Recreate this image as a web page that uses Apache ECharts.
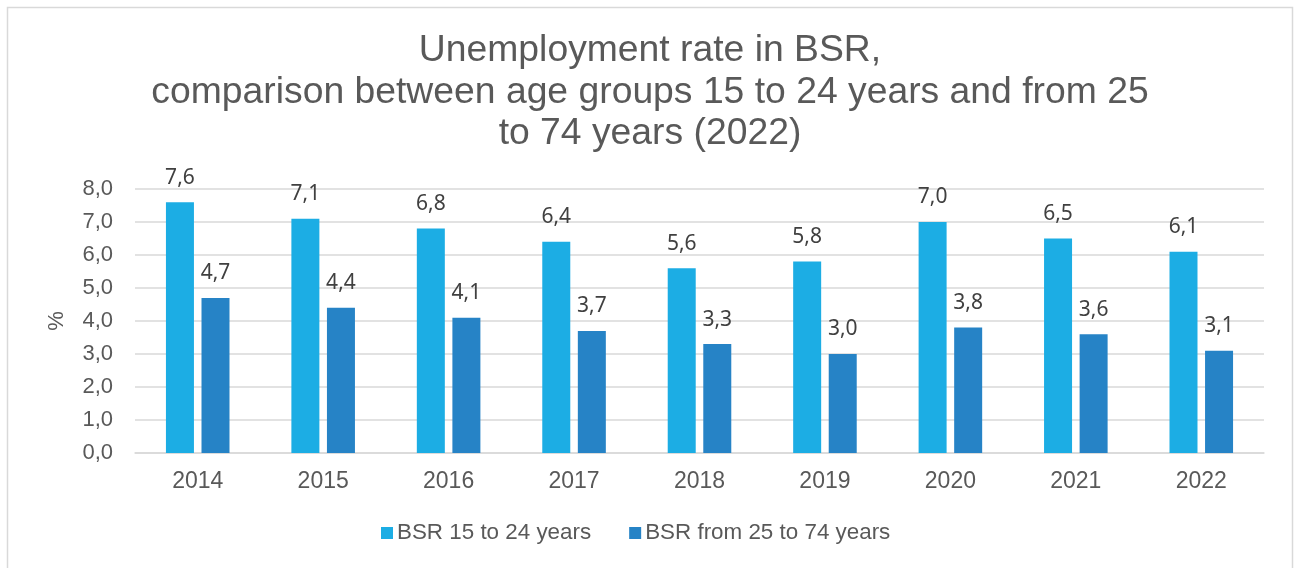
<!DOCTYPE html>
<html>
<head>
<meta charset="utf-8">
<script src="https://cdn.jsdelivr.net/npm/echarts@6/dist/echarts.min.js"></script>
<style>
  html, body { margin: 0; padding: 0; background: #fff; }
  #chart { width: 1295px; height: 568px; }
</style>
</head>
<body>
<div id="chart"></div>
<script>
const titleText = 'Unemployment rate in BSR,\ncomparison between age groups 15 to 24 years and from 25\nto 74 years (2022)';
const categories = ['2014', '2015', '2016', '2017', '2018', '2019', '2020', '2021', '2022'];
const seriesNames = ['BSR 15 to 24 years', 'BSR from 25 to 74 years'];
const youth = [7.6, 7.1, 6.8, 6.4, 5.6, 5.8, 7.0, 6.5, 6.1];
const adults = [4.7, 4.4, 4.1, 3.7, 3.3, 3.0, 3.8, 3.6, 3.1];
const yAxisName = '%';

const fmt = v => Number(v).toFixed(1).replace('.', ',');
const textColor = '#595959';
const font = 'Liberation Sans, Arial, sans-serif';

const chart = echarts.init(document.getElementById('chart'), null, { renderer: 'canvas' });
const labelCfg = {
  show: true,
  position: 'top',
  distance: 14,
  formatter: p => fmt(p.value),
  color: '#404040',
  fontFamily: 'Noto Sans, Open Sans, sans-serif',
  fontSize: 21
};
chart.setOption({
  backgroundColor: '#ffffff',
  animation: false,
  graphic: [{
    type: 'rect',
    shape: { x: 7.5, y: 7.5, width: 1285, height: 580 },
    style: { fill: 'none', stroke: '#D9D9D9', lineWidth: 1.5 },
    silent: true
  }],
  title: {
    text: titleText,
    left: 650,
    top: 30,
    textAlign: 'center',
    padding: 0,
    textStyle: {
      color: textColor,
      fontFamily: font,
      fontSize: 37.3,
      fontWeight: 'normal',
      lineHeight: 41.5
    }
  },
  legend: {
    data: seriesNames,
    left: 381,
    top: 522,
    padding: 0,
    itemWidth: 12,
    itemHeight: 12,
    itemGap: 38,
    icon: 'rect',
    textStyle: { color: textColor, fontFamily: font, fontSize: 22.4, padding: [0, 0, 0, -1] }
  },
  grid: { left: 135, right: 31, top: 189, bottom: 115, containLabel: false },
  xAxis: {
    type: 'category',
    data: categories,
    axisLine: { show: true, lineStyle: { color: '#D9D9D9', width: 1.5 } },
    axisTick: { show: false },
    axisLabel: { color: textColor, fontFamily: font, fontSize: 23, margin: 17 }
  },
  yAxis: {
    type: 'value',
    min: 0,
    max: 8,
    interval: 1,
    name: yAxisName,
    nameLocation: 'middle',
    nameRotate: 90,
    nameGap: 67,
    nameTextStyle: { color: textColor, fontFamily: font, fontSize: 22 },
    axisLine: { show: false },
    axisTick: { show: false },
    splitLine: { lineStyle: { color: '#D9D9D9', width: 1.5 } },
    axisLabel: { color: textColor, fontFamily: font, fontSize: 22, margin: 22, formatter: v => fmt(v) }
  },
  series: [
    {
      name: seriesNames[0],
      type: 'bar',
      data: youth,
      barWidth: 28,
      barGap: '27%',
      itemStyle: { color: '#1CADE4' },
      label: labelCfg
    },
    {
      name: seriesNames[1],
      type: 'bar',
      data: adults,
      barWidth: 28,
      barGap: '27%',
      itemStyle: { color: '#2683C6' },
      label: labelCfg
    }
  ]
});
</script>
</body>
</html>
